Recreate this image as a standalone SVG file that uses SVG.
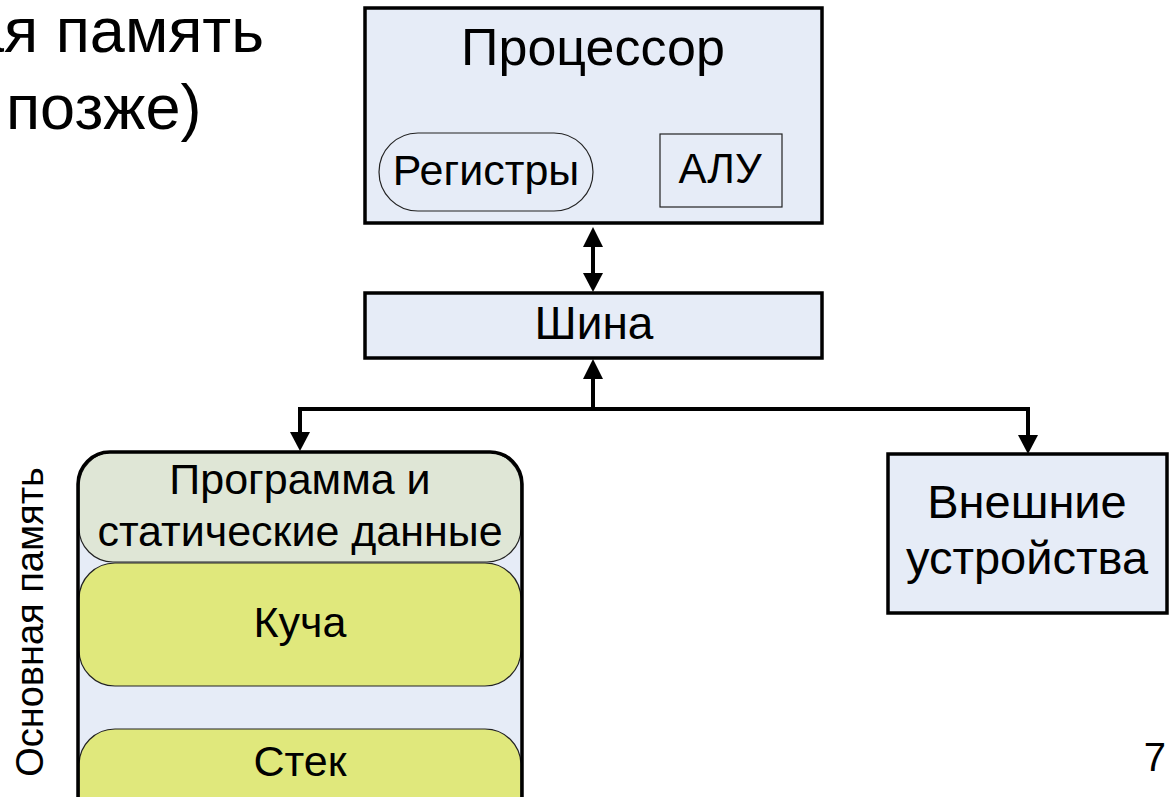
<svg xmlns="http://www.w3.org/2000/svg" width="1170" height="797" viewBox="0 0 1170 797">
<defs>
<style>
text{font-family:"Liberation Sans",Arial,sans-serif;fill:#000}
.box{fill:#e6ecf7;stroke:#000;stroke-width:3.5}
.thin{fill:none;stroke:#222;stroke-width:1.2}
.conn{fill:none;stroke:#000;stroke-width:4}
.blk{stroke:#222;stroke-width:1.2}
</style>
<clipPath id="memclip"><rect x="78" y="452" width="444" height="400" rx="32"/></clipPath>
</defs>
<rect width="1170" height="797" fill="#fff"/>

<g id="title">
<text x="264" y="52" font-size="63" text-anchor="end">ая память</text>
<text x="6" y="129" font-size="63">позже)</text>
</g>

<g id="cpu">
<rect class="box" x="365" y="8" width="457" height="215"/>
<text x="593" y="65" font-size="52" text-anchor="middle">Процессор</text>
<g id="registers">
<rect class="thin" x="379" y="133" width="214" height="78" rx="39"/>
<text x="486" y="185" font-size="43" text-anchor="middle">Регистры</text>
</g>
<g id="alu">
<rect class="thin" x="660" y="134" width="122" height="73"/>
<text x="720" y="183" font-size="42" text-anchor="middle">АЛУ</text>
</g>
</g>

<g id="bus">
<rect class="box" x="365" y="293" width="457" height="65"/>
<text x="594" y="339" font-size="46" text-anchor="middle">Шина</text>
</g>

<g id="memory">
<rect x="78" y="452" width="444" height="400" rx="32" fill="#e6ecf7"/>
<g clip-path="url(#memclip)">
<rect class="blk" x="79" y="452" width="442" height="110" rx="34" fill="#dfe6d6"/>
<rect class="blk" x="79" y="563" width="442" height="123" rx="36" fill="#e0e87c"/>
<rect class="blk" x="79" y="729" width="442" height="110" rx="36" fill="#e0e87c"/>
</g>
<rect x="78" y="452" width="444" height="400" rx="32" fill="none" stroke="#000" stroke-width="3.5"/>
<text x="300" y="494" font-size="43" text-anchor="middle">Программа и</text>
<text x="300" y="546" font-size="43" text-anchor="middle">статические данные</text>
<text x="300" y="637" font-size="43" text-anchor="middle">Куча</text>
<text x="300" y="776" font-size="43" text-anchor="middle">Стек</text>
</g>

<g id="memlabel">
<text transform="translate(43,622) rotate(-90)" font-size="38" text-anchor="middle">Основная память</text>
</g>

<g id="devices">
<rect class="box" x="888" y="454" width="279" height="159"/>
<text x="1027" y="518" font-size="47" text-anchor="middle">Внешние</text>
<text x="1027" y="574" font-size="47" text-anchor="middle">устройства</text>
</g>

<g id="pagenum">
<text x="1166" y="771" font-size="40" text-anchor="end">7</text>
</g>

<g id="connectors">
<line class="conn" x1="593" y1="246" x2="593" y2="274"/>
<path d="M583,247 L593,227 L603,247 Z" fill="#000"/>
<path d="M583,273 L593,292 L603,273 Z" fill="#000"/>
<polyline class="conn" points="593,409 593,378"/>
<path d="M583,379 L593,359 L603,379 Z" fill="#000"/>
<polyline class="conn" points="300,432 300,409 1028,409 1028,436"/>
<path d="M290,432 L300,451 L310,432 Z" fill="#000"/>
<path d="M1018,435 L1028,454 L1038,435 Z" fill="#000"/>
</g>
</svg>
